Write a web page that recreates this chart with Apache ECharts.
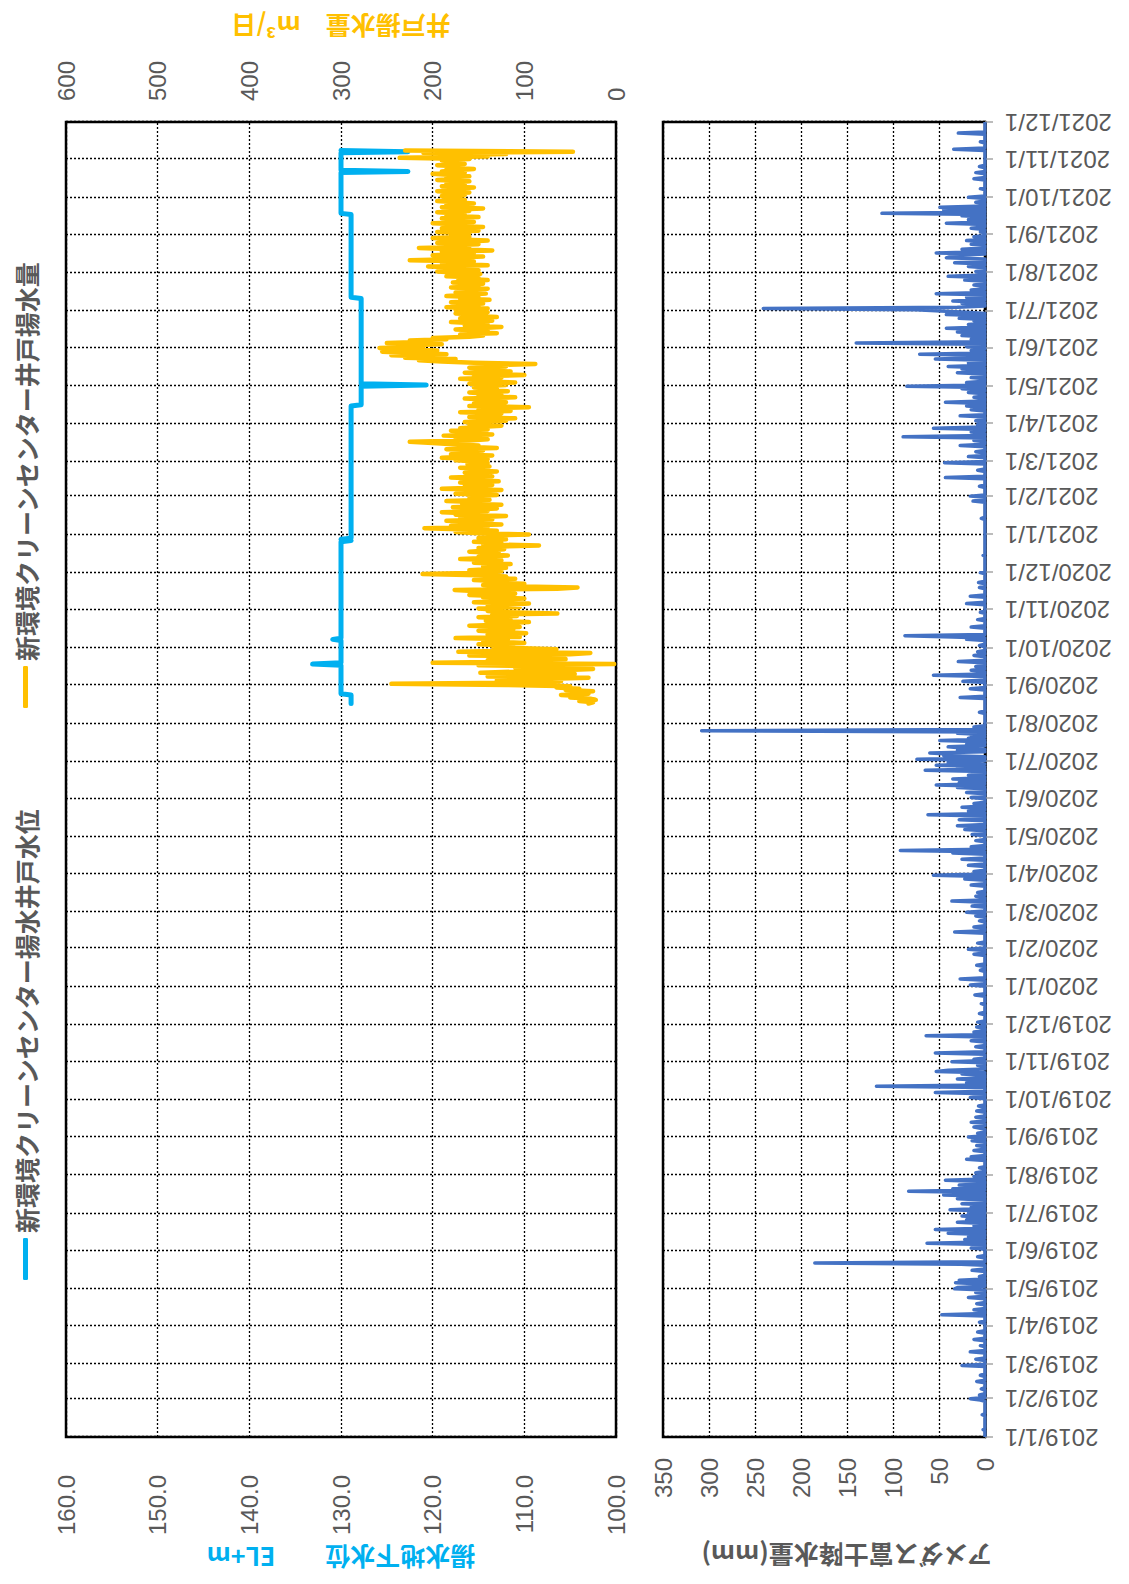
<!DOCTYPE html>
<html>
<head>
<meta charset="utf-8">
<script src="https://cdn.jsdelivr.net/npm/echarts@6/dist/echarts.min.js"></script>
<style>
html,body{margin:0;padding:0;background:#fff;overflow:hidden;}
/* the chart is laid out landscape and turned a quarter turn left, like the scanned page */
#main{position:absolute;left:0;top:0;width:1584px;height:1129px;transform-origin:0 0;transform:translate(0,1584px) rotate(-90deg);}
</style>
</head>
<body>
<div id="main"></div>
<script>
// daily date categories 2019/1/1 - 2021/12/1
var days = [];
var d = new Date(2019, 0, 1);
var endDay = new Date(2021, 11, 1);
while (d <= endDay) {
  days.push(d.getFullYear() + '/' + (d.getMonth() + 1) + '/' + d.getDate());
  d.setDate(d.getDate() + 1);
}

var levelName = '新環境クリーンセンター揚水井戸水位';
var pumpName = '新環境クリーンセンター井戸揚水量';

// 揚水地下水位 (EL+m), points where the level changes
var levelPoints = [
  ['2020/8/17', 128.9], ['2020/8/24', 128.9], ['2020/8/25', 130.0], ['2020/9/17', 130.0],
  ['2020/9/18', 133.1], ['2020/9/19', 130.0], ['2020/10/7', 130.0], ['2020/10/8', 130.9],
  ['2020/10/9', 130.0], ['2020/12/26', 130.0], ['2020/12/27', 128.9], ['2020/12/28', 130.0],
  ['2020/12/29', 128.9], ['2021/4/15', 128.9], ['2021/4/16', 127.8], ['2021/5/1', 127.8],
  ['2021/5/2', 120.7], ['2021/5/3', 127.8], ['2021/7/11', 127.8], ['2021/7/12', 128.9],
  ['2021/9/17', 128.9], ['2021/9/18', 130.0], ['2021/10/21', 130.0], ['2021/10/22', 122.7],
  ['2021/10/23', 130.0], ['2021/11/6', 130.0], ['2021/11/7', 122.7], ['2021/11/8', 130.0]
];

// 井戸揚水量 (m3/日), daily from 2020/8/17
var pumpStart = '2020/8/17';
var pumpValues = [
  30, 25, 40, 22, 28, 50, 35, 60, 30, 45, 25, 55, 40, 65, 50,
  120, 245, 90, 60, 130, 70, 30, 140, 80, 45, 148, 100, 60, 25, 110, 70, 150, 2, 200, 95, 140, 55, 120, 80, 160, 50, 28, 172, 90, 65,
  110, 135, 120, 150, 100, 128, 145, 118, 175, 105, 132, 140, 98, 125, 150, 112, 138, 105, 160, 120, 130, 95, 142, 115, 125, 150, 108, 135, 64, 120, 140,
  130, 150, 105, 140, 120, 95, 155, 115, 135, 100, 145, 125, 160, 110, 130, 150, 176, 64, 42, 120, 145, 100, 135, 125, 155, 110, 140, 120, 150, 211,
  150, 125, 160, 135, 120, 145, 130, 115, 155, 140, 125, 170, 135, 150, 118, 145, 128, 160, 140, 122, 150, 135, 84, 145, 125, 155, 138, 120, 150, 130, 140,
  95, 150, 175, 130, 160, 209, 140, 180, 125, 165, 150, 185, 135, 170, 145, 120, 175, 155, 190, 140, 160, 130, 178, 150, 125, 168, 145, 185, 138, 160, 150,
  160, 130, 175, 140, 155, 125, 190, 145, 165, 135, 150, 170, 128, 160, 145, 180, 135, 155, 140, 165, 130, 158, 145, 170, 138, 150, 162, 140,
  150, 175, 140, 190, 160, 135, 180, 155, 170, 145, 185, 130, 165, 150, 178, 200, 225, 160, 140, 175, 150, 188, 135, 165, 155, 180, 140, 170, 150, 125, 160,
  140, 165, 120, 150, 110, 160, 135, 145, 125, 170, 115, 150, 140, 95, 160, 130, 155, 120, 145, 135, 165, 110, 150, 125, 140, 160, 118, 145, 130, 155,
  145, 120, 160, 110, 150, 135, 170, 125, 155, 100, 140, 165, 115, 150, 130, 160, 120, 145, 88, 155, 190, 215, 175, 230, 200, 245, 185, 220, 255, 195, 240,
  258, 210, 235, 190, 250, 205, 225, 185, 200, 160, 145, 170, 130, 160, 140, 175, 150, 125, 165, 140, 155, 180, 135, 150, 170, 130, 160, 145, 175, 140,
  160, 175, 140, 185, 150, 165, 145, 180, 155, 138, 170, 150, 185, 160, 142, 175, 155, 168, 140, 180, 150, 165, 145, 178, 158, 140, 172, 150, 185, 160, 148,
  170, 195, 150, 185, 160, 205, 140, 175, 190, 155, 225, 165, 180, 145, 200, 170, 155, 190, 135, 175, 215, 160, 185, 150, 195, 165, 140, 180, 200, 160, 175,
  180, 160, 195, 150, 175, 190, 145, 185, 165, 200, 155, 180, 170, 190, 150, 185, 165, 175, 195, 160, 180, 145, 190, 170, 185, 155, 175, 195, 165, 180,
  175, 190, 165, 185, 160, 195, 170, 180, 155, 190, 165, 185, 175, 160, 195, 170, 185, 160, 180, 200, 165, 190, 175, 155, 185, 170, 195, 165, 180, 175, 190,
  160, 236, 140, 185, 120, 210, 47, 230
];

// アメダス富士 降水量 (mm), rainy days only; other days 0
var rainDays = [
  ['2019/1/7', 2], ['2019/1/19', 3], ['2019/1/31', 5],
  ['2019/2/1', 16], ['2019/2/4', 6], ['2019/2/9', 4], ['2019/2/15', 9], ['2019/2/20', 5], ['2019/2/28', 25],
  ['2019/3/5', 10], ['2019/3/11', 16], ['2019/3/16', 5], ['2019/3/21', 12], ['2019/3/27', 8],
  ['2019/4/4', 6], ['2019/4/10', 47], ['2019/4/14', 12], ['2019/4/19', 9], ['2019/4/24', 18], ['2019/4/28', 10],
  ['2019/5/1', 33], ['2019/5/2', 30], ['2019/5/6', 32], ['2019/5/8', 28], ['2019/5/11', 6], ['2019/5/16', 14], ['2019/5/21', 26], ['2019/5/22', 185], ['2019/5/27', 8],
  ['2019/6/3', 15], ['2019/6/7', 63], ['2019/6/10', 22], ['2019/6/12', 18], ['2019/6/15', 40], ['2019/6/18', 54], ['2019/6/21', 12], ['2019/6/24', 30], ['2019/6/26', 20], ['2019/6/29', 25],
  ['2019/7/1', 18], ['2019/7/4', 38], ['2019/7/6', 15], ['2019/7/9', 25], ['2019/7/13', 30], ['2019/7/16', 45], ['2019/7/19', 83], ['2019/7/21', 35], ['2019/7/24', 28], ['2019/7/28', 43], ['2019/7/31', 12],
  ['2019/8/3', 10], ['2019/8/7', 6], ['2019/8/14', 20], ['2019/8/16', 15], ['2019/8/21', 12], ['2019/8/25', 9], ['2019/8/29', 14],
  ['2019/9/1', 18], ['2019/9/4', 8], ['2019/9/8', 5], ['2019/9/9', 12], ['2019/9/13', 15], ['2019/9/17', 10], ['2019/9/22', 9], ['2019/9/26', 7],
  ['2019/10/3', 16], ['2019/10/7', 54], ['2019/10/12', 118], ['2019/10/15', 20], ['2019/10/18', 30], ['2019/10/22', 25], ['2019/10/24', 53], ['2019/10/25', 40], ['2019/10/29', 8],
  ['2019/11/1', 36], ['2019/11/3', 12], ['2019/11/8', 54], ['2019/11/13', 10], ['2019/11/18', 15], ['2019/11/22', 64], ['2019/11/25', 12], ['2019/11/29', 9],
  ['2019/12/3', 8], ['2019/12/10', 6], ['2019/12/18', 4], ['2019/12/25', 11],
  ['2020/1/2', 16], ['2020/1/7', 27], ['2020/1/14', 5], ['2020/1/18', 9], ['2020/1/27', 12], ['2020/1/31', 18],
  ['2020/2/5', 8], ['2020/2/14', 33], ['2020/2/18', 12], ['2020/2/23', 6], ['2020/2/27', 10],
  ['2020/3/1', 20], ['2020/3/6', 14], ['2020/3/10', 36], ['2020/3/14', 10], ['2020/3/17', 8], ['2020/3/23', 15], ['2020/3/28', 22], ['2020/3/31', 56],
  ['2020/4/3', 12], ['2020/4/8', 18], ['2020/4/13', 25], ['2020/4/18', 35], ['2020/4/20', 92], ['2020/4/23', 15], ['2020/4/28', 10],
  ['2020/5/3', 14], ['2020/5/7', 22], ['2020/5/10', 30], ['2020/5/15', 28], ['2020/5/19', 62], ['2020/5/22', 18], ['2020/5/25', 25], ['2020/5/28', 12],
  ['2020/6/2', 15], ['2020/6/6', 20], ['2020/6/10', 30], ['2020/6/12', 53], ['2020/6/14', 28], ['2020/6/17', 35], ['2020/6/20', 18], ['2020/6/24', 65], ['2020/6/26', 30], ['2020/6/28', 53], ['2020/6/30', 40],
  ['2020/7/1', 30], ['2020/7/3', 74], ['2020/7/6', 45], ['2020/7/7', 35], ['2020/7/8', 60], ['2020/7/10', 30], ['2020/7/12', 25], ['2020/7/13', 40], ['2020/7/15', 20], ['2020/7/18', 49], ['2020/7/20', 18], ['2020/7/22', 15], ['2020/7/24', 30], ['2020/7/26', 308], ['2020/7/29', 12],
  ['2020/8/10', 6], ['2020/8/22', 27], ['2020/8/29', 16],
  ['2020/9/4', 24], ['2020/9/9', 56], ['2020/9/13', 15], ['2020/9/16', 10], ['2020/9/20', 29], ['2020/9/25', 12], ['2020/9/28', 8],
  ['2020/10/3', 6], ['2020/10/8', 20], ['2020/10/10', 35], ['2020/10/11', 87], ['2020/10/18', 15], ['2020/10/24', 8], ['2020/10/30', 5],
  ['2020/11/6', 20], ['2020/11/12', 16], ['2020/11/19', 6], ['2020/11/23', 7],
  ['2020/12/1', 5], ['2020/12/15', 2],
  ['2021/1/14', 4], ['2021/1/28', 13],
  ['2021/2/1', 16], ['2021/2/9', 6], ['2021/2/16', 43], ['2021/2/22', 8], ['2021/2/28', 44],
  ['2021/3/5', 18], ['2021/3/9', 10], ['2021/3/14', 27], ['2021/3/18', 12], ['2021/3/21', 89], ['2021/3/25', 15], ['2021/3/28', 56], ['2021/3/31', 8],
  ['2021/4/3', 10], ['2021/4/7', 27], ['2021/4/12', 15], ['2021/4/15', 20], ['2021/4/18', 43], ['2021/4/22', 12], ['2021/4/26', 18], ['2021/4/29', 25],
  ['2021/5/1', 85], ['2021/5/4', 20], ['2021/5/8', 15], ['2021/5/12', 30], ['2021/5/15', 25], ['2021/5/17', 40], ['2021/5/20', 18], ['2021/5/23', 54], ['2021/5/25', 22], ['2021/5/27', 71], ['2021/5/30', 15],
  ['2021/6/2', 20], ['2021/6/5', 140], ['2021/6/8', 15], ['2021/6/11', 25], ['2021/6/14', 30], ['2021/6/17', 42], ['2021/6/20', 18], ['2021/6/23', 12], ['2021/6/25', 28], ['2021/6/28', 42], ['2021/6/30', 20],
  ['2021/7/1', 48], ['2021/7/2', 75], ['2021/7/3', 241], ['2021/7/4', 30], ['2021/7/7', 25], ['2021/7/9', 35], ['2021/7/12', 20], ['2021/7/15', 53], ['2021/7/18', 15], ['2021/7/22', 12], ['2021/7/26', 22], ['2021/7/29', 40],
  ['2021/8/2', 10], ['2021/8/6', 18], ['2021/8/9', 33], ['2021/8/13', 42], ['2021/8/14', 38], ['2021/8/15', 30], ['2021/8/17', 53], ['2021/8/20', 25], ['2021/8/24', 15], ['2021/8/27', 20], ['2021/8/30', 12],
  ['2021/9/3', 5], ['2021/9/6', 15], ['2021/9/10', 42], ['2021/9/13', 18], ['2021/9/16', 25], ['2021/9/18', 112], ['2021/9/21', 45], ['2021/9/23', 49], ['2021/9/27', 10],
  ['2021/10/1', 18], ['2021/10/8', 5], ['2021/10/16', 12], ['2021/10/21', 10], ['2021/10/26', 6],
  ['2021/11/9', 34], ['2021/11/15', 5], ['2021/11/22', 29]
];

var pumpData = [];
var p0 = days.indexOf(pumpStart);
for (var i = 0; i < pumpValues.length; i++) {
  pumpData.push([days[p0 + i], pumpValues[i]]);
}
var rainMap = {};
rainDays.forEach(function (r) { rainMap[r[0]] = r[1]; });
var rainData = days.map(function (day) { return rainMap[day] || 0; });

function monthStart(idx, val) {
  return /\/1$/.test(val);
}

var gray = '#595959';
var numFont = 'Liberation Sans';
var jpFont = 'Noto Sans CJK JP';
var dotted = { type: [2, 2], color: '#000', width: 1.3 };

var chart = echarts.init(document.getElementById('main'), null, { renderer: 'svg', width: 1584, height: 1129 });

var option = {
  animation: false,
  backgroundColor: '#fff',
  legend: {
    data: [levelName, pumpName],
    left: 299,
    top: 8,
    itemWidth: 42,
    itemHeight: 5,
    itemGap: 100,
    icon: 'roundRect',
    textStyle: { color: gray, fontSize: 25, fontWeight: 'bold', fontFamily: jpFont }
  },
  grid: [
    { left: 147, right: 122, top: 66, height: 550, show: true, borderColor: '#000', borderWidth: 2.5 },
    { left: 147, right: 122, top: 663, bottom: 144, show: true, borderColor: '#000', borderWidth: 2.5 }
  ],
  xAxis: [
    {
      gridIndex: 0, type: 'category', data: days, boundaryGap: false,
      axisLine: { show: false }, axisTick: { show: false }, axisLabel: { show: false },
      splitLine: { show: true, interval: monthStart, lineStyle: dotted }
    },
    {
      gridIndex: 1, type: 'category', data: days, boundaryGap: false,
      axisLine: { show: true, onZero: false, lineStyle: { color: '#000', width: 2.5 } },
      axisTick: { show: true, interval: monthStart, length: 8, lineStyle: { color: '#a6a6a6', width: 1.5 } },
      axisLabel: { interval: monthStart, rotate: 90, margin: 20, fontSize: 24, color: gray, fontFamily: numFont },
      splitLine: { show: true, interval: monthStart, lineStyle: dotted }
    }
  ],
  yAxis: [
    {
      gridIndex: 0, type: 'value', min: 100, max: 160, interval: 10, position: 'left',
      name: '揚水地下水位　　EL+m', nameLocation: 'middle', nameRotate: 90, nameGap: 106,
      nameTextStyle: { color: '#00B0F0', fontSize: 25, fontWeight: 'bold', fontFamily: jpFont },
      axisLine: { show: false }, axisTick: { show: false },
      axisLabel: { margin: 38, fontSize: 24, color: gray, fontFamily: numFont, formatter: function (v) { return v.toFixed(1); } },
      splitLine: { show: true, lineStyle: dotted }
    },
    {
      gridIndex: 0, type: 'value', min: 0, max: 600, interval: 100, position: 'right',
      name: '井戸揚水量　m³/日', nameLocation: 'middle', nameRotate: 90, nameGap: 82,
      nameTextStyle: { color: '#FFC000', fontSize: 25, fontWeight: 'bold', fontFamily: jpFont },
      axisLine: { show: false }, axisTick: { show: false },
      axisLabel: { margin: 21, fontSize: 24, color: gray, fontFamily: numFont },
      splitLine: { show: false }
    },
    {
      gridIndex: 1, type: 'value', min: 0, max: 350, interval: 50, position: 'left',
      name: 'アメダス富士降水量(mm)', nameLocation: 'middle', nameRotate: 90, nameGap: 106,
      nameTextStyle: { color: gray, fontSize: 25, fontWeight: 'bold', fontFamily: jpFont, padding: [0, 46, 0, 0] },
      axisLine: { show: false }, axisTick: { show: false },
      axisLabel: { margin: 21, fontSize: 24, color: gray, fontFamily: numFont },
      splitLine: { show: true, lineStyle: dotted }
    }
  ],
  series: [
    {
      name: levelName, type: 'line', xAxisIndex: 0, yAxisIndex: 0, data: levelPoints,
      showSymbol: false, symbol: 'none', z: 3,
      itemStyle: { color: '#00B0F0' },
      lineStyle: { color: '#00B0F0', width: 5, join: 'round', cap: 'round' }
    },
    {
      name: pumpName, type: 'line', xAxisIndex: 0, yAxisIndex: 1, data: pumpData,
      showSymbol: false, symbol: 'none', z: 4,
      itemStyle: { color: '#FFC000' },
      lineStyle: { color: '#FFC000', width: 4.5, join: 'round', cap: 'round' }
    },
    {
      name: '降水量', type: 'line', xAxisIndex: 1, yAxisIndex: 2, data: rainData,
      showSymbol: false, symbol: 'none', z: 3,
      itemStyle: { color: '#4472C4' },
      lineStyle: { color: '#4472C4', width: 3.5, join: 'round' }
    }
  ]
};
chart.setOption(option);
</script>
</body>
</html>
